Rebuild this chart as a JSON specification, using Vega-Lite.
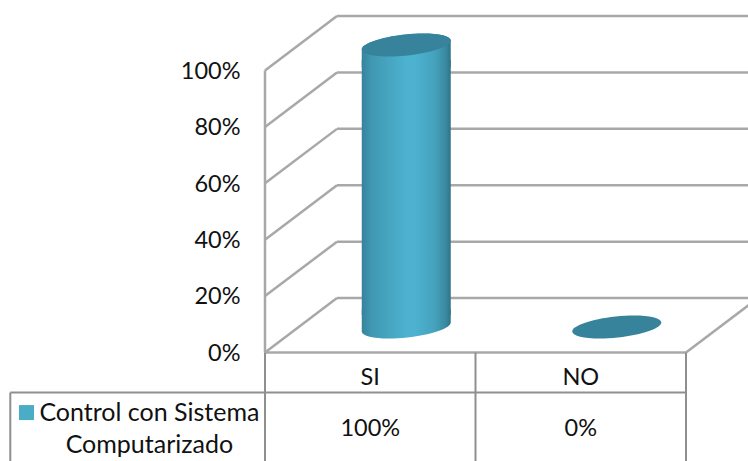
{
"$schema":"https://vega.github.io/schema/vega-lite/v6.json",
"width":421,"height":282,
"autosize":{"type":"none"},
"padding":{"left":265,"top":70.5,"right":62,"bottom":108.5},
"background":"white",
"config":{"view":{"stroke":null},"text":{"font":"Lato","fontSize":23.5,"color":"#111111"}},
"datasets":{
"results":[{"cat":"SI","value":100,"label":"100%","row":-27.2},{"cat":"NO","value":0,"label":"0%","row":-27.2}],
"walls":[
{"x":0,"x2":0,"y":0,"y2":100},
{"x":0,"x2":0.342,"y":0,"y2":19.3},{"x":0.342,"x2":2.342,"y":19.3,"y2":19.3},
{"x":0,"x2":0.342,"y":20,"y2":39.3},{"x":0.342,"x2":2.342,"y":39.3,"y2":39.3},
{"x":0,"x2":0.342,"y":40,"y2":59.3},{"x":0.342,"x2":2.342,"y":59.3,"y2":59.3},
{"x":0,"x2":0.342,"y":60,"y2":79.3},{"x":0.342,"x2":2.342,"y":79.3,"y2":79.3},
{"x":0,"x2":0.342,"y":80,"y2":99.3},{"x":0.342,"x2":2.342,"y":99.3,"y2":99.3},
{"x":0,"x2":0.342,"y":100,"y2":119.3},{"x":0.342,"x2":2.342,"y":119.3,"y2":119.3},
{"x":2,"x2":2.342,"y":0,"y2":19.3},
{"x":0,"x2":2,"y":0,"y2":0}
],
"table":[
{"x":0,"x2":0,"y":0,"y2":-39},
{"x":1,"x2":1,"y":0,"y2":-39},
{"x":2,"x2":2,"y":0,"y2":-39},
{"x":-1.21,"x2":2,"y":-14.2,"y2":-14.2},
{"x":-1.21,"x2":-1.21,"y":-14.2,"y2":-39}
],
"legendText":[{"x":-0.549,"y":-21.4,"t":"Control con Sistema"},{"x":-0.549,"y":-32.7,"t":"Computarizado"}],
"legendKey":[{"x":-1.133,"y":-21.3}]
},
"layer":[
{"data":{"name":"walls"},"mark":{"type":"rule","color":"#A8A8A8","strokeWidth":2.5},
 "encoding":{
  "x":{"field":"x","type":"quantitative","scale":{"domain":[0,2],"nice":false,"zero":false},"axis":null},
  "x2":{"field":"x2"},
  "y":{"field":"y","type":"quantitative","scale":{"domain":[0,100],"nice":false,"zero":false},
       "axis":{"values":[0,20,40,60,80,100],"labelExpr":"datum.value+'%'","title":null,"domain":false,"ticks":false,"grid":false,"labelPadding":25,"labelOffset":0.8,"labelFont":"Lato","labelFontSize":23.5,"labelColor":"#111111"}},
  "y2":{"field":"y2"}}},
{"data":{"name":"table"},"mark":{"type":"rule","color":"#8F8F8F","strokeWidth":2},
 "encoding":{
  "x":{"field":"x","type":"quantitative","scale":{"domain":[0,2],"nice":false,"zero":false},"axis":null},
  "x2":{"field":"x2"},
  "y":{"field":"y","type":"quantitative"},
  "y2":{"field":"y2"}}},
{"data":{"name":"legendText"},"mark":{"type":"text","align":"center","baseline":"middle","fontSize":25},
 "encoding":{
  "x":{"field":"x","type":"quantitative","scale":{"domain":[0,2],"nice":false,"zero":false},"axis":null},
  "y":{"field":"y","type":"quantitative"},
  "text":{"field":"t"}}},
{"data":{"name":"legendKey"},"mark":{"type":"point","shape":"square","filled":true,"opacity":1,"color":"#4BACC6","size":225},
 "encoding":{
  "x":{"field":"x","type":"quantitative","scale":{"domain":[0,2],"nice":false,"zero":false},"axis":null},
  "y":{"field":"y","type":"quantitative"}}},
{"data":{"name":"results"},"transform":[{"filter":"datum.value>0"}],"mark":{"type":"point","filled":true,"opacity":1,"size":7921,"xOffset":36,"yOffset":-25.5,
  "shape":"M -1 -0.4 L 1 -0.4 L 0.9997 -0.106 A 1.0053 0.2367 -6.05 1 1 -0.9997 0.106 Z",
  "fill":{"gradient":"linear","x1":0,"y1":0,"x2":1,"y2":0,"stops":[{"offset":0,"color":"#35839B"},{"offset":0.1,"color":"#3F97B0"},{"offset":0.3,"color":"#46A5C1"},{"offset":0.5,"color":"#4CB2D0"},{"offset":0.6,"color":"#4CB2D0"},{"offset":0.82,"color":"#45A2BC"},{"offset":0.94,"color":"#3A8AA2"},{"offset":1,"color":"#2F7488"}]}},
 "encoding":{
  "x":{"field":"cat","type":"nominal","sort":["SI","NO"],"scale":{"type":"band","domain":["SI","NO"],"paddingInner":0,"paddingOuter":0},"axis":{"title":null,"orient":"bottom","labelAngle":0,"domain":false,"ticks":false,"grid":false,"labelPadding":13,"labelFont":"Lato","labelFontSize":23.5,"labelColor":"#111111"}},
  "y":{"datum":0,"type":"quantitative"}}},
{"data":{"name":"results"},"transform":[{"filter":"datum.value>0"}],"mark":{"type":"point","filled":true,"opacity":1,"size":7921,"xOffset":36,"yOffset":-25.5,
  "shape":"M -0.9997 0.106 A 1.0053 0.2367 -6.05 1 1 0.9997 -0.106 L 1 0.5 L -1 0.5 Z",
  "fill":{"gradient":"linear","x1":0,"y1":0,"x2":1,"y2":0,"stops":[{"offset":0,"color":"#35839B"},{"offset":0.1,"color":"#3F97B0"},{"offset":0.3,"color":"#46A5C1"},{"offset":0.5,"color":"#4CB2D0"},{"offset":0.6,"color":"#4CB2D0"},{"offset":0.82,"color":"#45A2BC"},{"offset":0.94,"color":"#3A8AA2"},{"offset":1,"color":"#2F7488"}]}},
 "encoding":{
  "x":{"field":"cat","type":"nominal","sort":["SI","NO"],"scale":{"type":"band","domain":["SI","NO"],"paddingInner":0,"paddingOuter":0},"axis":null},
  "y":{"field":"value","type":"quantitative"}}},
{"data":{"name":"results"},"transform":[{"filter":"datum.value>0"}],"mark":{"type":"bar","size":89,"xOffset":36,"yOffset":-10.5,"y2Offset":-37.5,
  "color":{"gradient":"linear","x1":0,"y1":0,"x2":1,"y2":0,"stops":[{"offset":0,"color":"#35839B"},{"offset":0.1,"color":"#3F97B0"},{"offset":0.3,"color":"#46A5C1"},{"offset":0.5,"color":"#4CB2D0"},{"offset":0.6,"color":"#4CB2D0"},{"offset":0.82,"color":"#45A2BC"},{"offset":0.94,"color":"#3A8AA2"},{"offset":1,"color":"#2F7488"}]}},
 "encoding":{
  "x":{"field":"cat","type":"nominal","sort":["SI","NO"],"scale":{"type":"band","domain":["SI","NO"],"paddingInner":0,"paddingOuter":0},"axis":null},
  "y":{"field":"value","type":"quantitative"},
  "y2":{"datum":0}}},
{"data":{"name":"results"},"mark":{"type":"point","filled":true,"opacity":1,"size":7921,"xOffset":36,"yOffset":-25.5,"color":"#37839C",
  "shape":"M -0.9997 0.106 A 1.0053 0.2367 -6.05 1 1 0.9997 -0.106 A 1.0053 0.2367 -6.05 1 1 -0.9997 0.106 Z"},
 "encoding":{
  "x":{"field":"cat","type":"nominal","sort":["SI","NO"],"scale":{"type":"band","domain":["SI","NO"],"paddingInner":0,"paddingOuter":0},"axis":null},
  "y":{"field":"value","type":"quantitative"}}},
{"data":{"name":"results"},"mark":{"type":"text","align":"center","baseline":"middle"},
 "encoding":{
  "x":{"field":"cat","type":"nominal","sort":["SI","NO"],"scale":{"type":"band","domain":["SI","NO"],"paddingInner":0,"paddingOuter":0},"axis":null},
  "y":{"field":"row","type":"quantitative"},
  "text":{"field":"label"}}}
],
"resolve":{"scale":{"x":"independent"}}
}
